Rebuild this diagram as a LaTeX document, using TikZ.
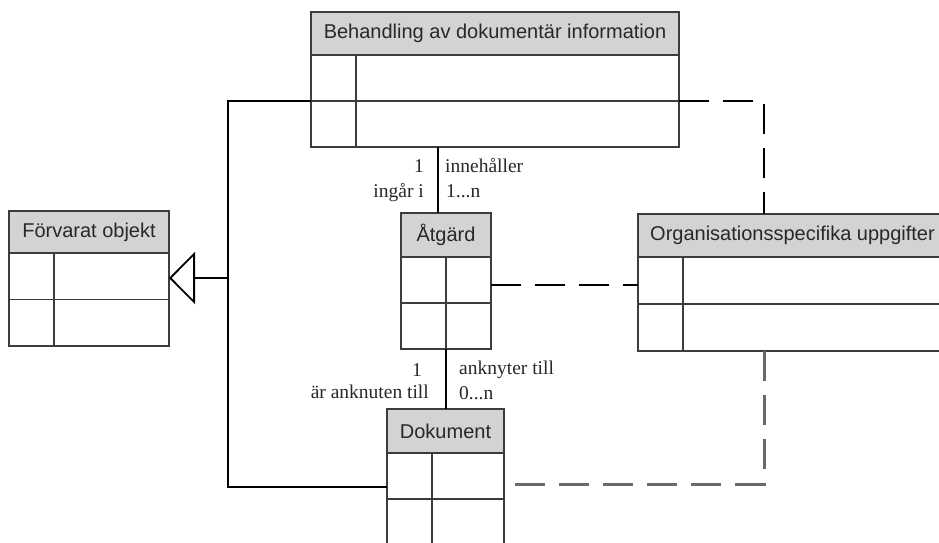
\documentclass[tikz,border=0pt]{standalone}
\usepackage{fontspec}
\setmainfont{Liberation Serif}
\setsansfont{Liberation Sans}
\usetikzlibrary{arrows.meta,calc}
\definecolor{boxc}{RGB}{60,60,60}
\definecolor{hdrc}{RGB}{211,211,211}
\definecolor{txtc}{RGB}{40,40,40}
\definecolor{dgray}{RGB}{105,105,105}
\begin{document}
\begin{tikzpicture}[x=1pt,y=-1pt,
 hdr/.style={draw=boxc, fill=hdrc, line width=1.6pt, anchor=north west, inner sep=0pt, outer sep=0pt, font=\sffamily\fontsize{20}{24}\selectfont, text=txtc},
 bodyst/.style={draw=boxc, line width=1.6pt, anchor=north west, inner sep=0pt, outer sep=0pt},
 gridl/.style={draw=boxc, line width=1.6pt},
 conn/.style={line width=1.8pt, black},
 dashA/.style={conn, dash pattern=on 30pt off 14pt},
 dashB/.style={line width=3pt, dgray, dash pattern=on 30pt off 14pt},
 lbl/.style={font=\fontsize{19.5}{22}\selectfont, text=txtc, inner sep=0pt}]
\clip (0,0) rectangle (939,542);
\fill[white] (0,0) rectangle (939,542);
% Behandling
\node[hdr, minimum width=368pt, minimum height=43pt] (beh) at (311,12) {Behandling av dokumentär information};
\node[bodyst, minimum width=368pt, minimum height=92pt] (behb) at (beh.south west) {};
\draw[gridl] ([xshift=45pt]behb.north west) -- ([xshift=45pt]behb.south west);
\draw[gridl] (behb.west) -- (behb.east);
% Förvarat objekt
\node[hdr, minimum width=160pt, minimum height=42pt] (forv) at (9,211) {Förvarat objekt};
\node[bodyst, minimum width=160pt, minimum height=93pt] (forb) at (forv.south west) {};
\draw[gridl] ([xshift=45pt]forb.north west) -- ([xshift=45pt]forb.south west);
\draw[gridl] (forb.west) -- (forb.east);
% Åtgärd
\node[hdr, minimum width=90pt, minimum height=44pt] (atg) at (401,213) {Åtgärd};
\node[bodyst, minimum width=90pt, minimum height=92pt] (atgb) at (atg.south west) {};
\draw[gridl] ([xshift=45pt]atgb.north west) -- ([xshift=45pt]atgb.south west);
\draw[gridl] (atgb.west) -- (atgb.east);
% Organisationsspecifika uppgifter
\node[hdr, minimum width=309pt, minimum height=43pt] (org) at (638,214) {Organisationsspecifika uppgifter};
\node[bodyst, minimum width=309pt, minimum height=94pt] (orgb) at (org.south west) {};
\draw[gridl] ([xshift=45pt]orgb.north west) -- ([xshift=45pt]orgb.south west);
\draw[gridl] (orgb.west) -- (orgb.east);
% Dokument
\node[hdr, minimum width=117pt, minimum height=44pt] (dok) at (387,409) {Dokument};
\node[bodyst, minimum width=117pt, minimum height=92pt] (dokb) at (dok.south west) {};
\draw[gridl] ([xshift=45pt]dokb.north west) -- ([xshift=45pt]dokb.south west);
\draw[gridl] (dokb.west) -- (dokb.east);
% coordinates
\coordinate (jb) at (228,487);
\coordinate (gen) at (228,278);
\coordinate (c1) at (438,0);
\coordinate (d1) at (764,0);
\coordinate (d2) at (0,285);
\coordinate (d3) at (0,484);
% generalisation
\draw[conn] (behb.west) -| (jb) -- (dokb.west |- jb);
\draw[conn, -{Triangle[open,length=26pt,width=52pt]}] (gen) -- (forb.east |- gen);
% associations
\draw[conn] (behb.south -| c1) -- (atg.north -| c1);
\draw[conn] (atgb.south) -- (atgb.south |- dok.north);
% dashed
\draw[dashA] (behb.east) -- (behb.east -| d1) -- (org.north -| d1);
\draw[dashA] (atgb.east |- d2) -- (orgb.west |- d2);
\draw[dashB] (orgb.south -| d1) -- (d1 |- d3) -- (dokb.east |- d3);
% labels
\node[lbl, anchor=base east] (l1) at (424,172) {1};
\node[lbl, anchor=base east] (l2) at (424,197) {ingår i};
\node[lbl, anchor=base west] (l3) at (445,172) {innehåller};
\node[lbl, anchor=base west] (l4) at (446,197) {1...n};
\node[lbl, anchor=base east] (l5) at (422,376) {1};
\node[lbl, anchor=base east] (l6) at (429,398) {är anknuten till};
\node[lbl, anchor=base west] (l7) at (459,374) {anknyter till};
\node[lbl, anchor=base west] (l8) at (459,399) {0...n};
\end{tikzpicture}
\end{document}
